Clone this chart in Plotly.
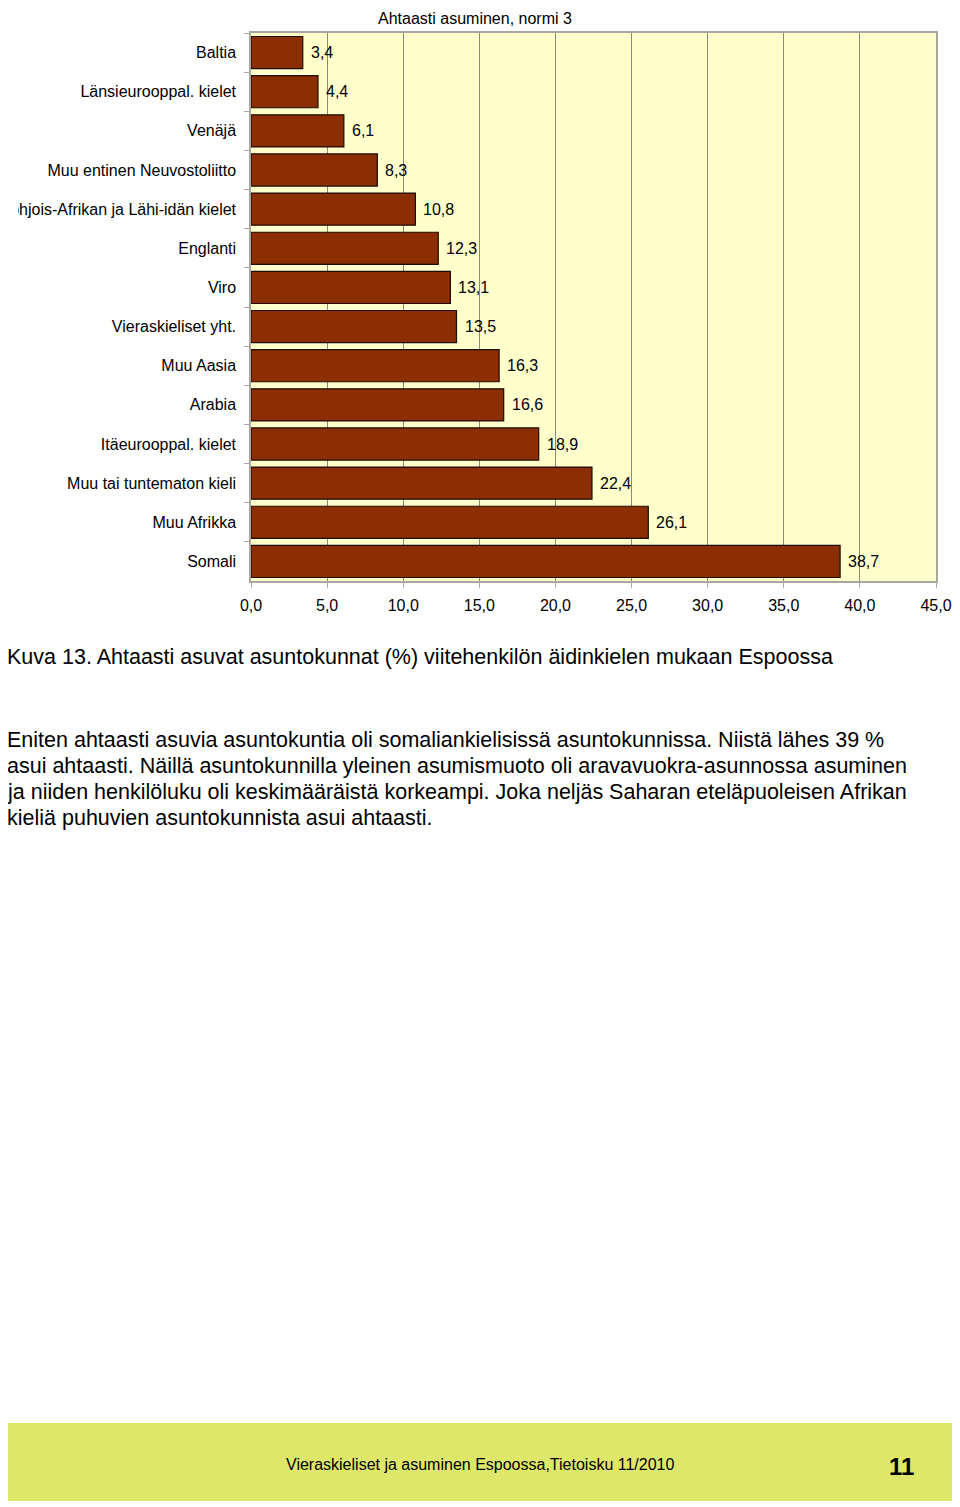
import plotly.graph_objects as go

categories = ["Baltia", "Länsieurooppal. kielet", "Venäjä", "Muu entinen Neuvostoliitto",
              "Pohjois-Afrikan ja Lähi-idän kielet", "Englanti", "Viro", "Vieraskieliset yht.",
              "Muu Aasia", "Arabia", "Itäeurooppal. kielet", "Muu tai tuntematon kieli",
              "Muu Afrikka", "Somali"]
values = [3.4, 4.4, 6.1, 8.3, 10.8, 12.3, 13.1, 13.5, 16.3, 16.6, 18.9, 22.4, 26.1, 38.7]
tick_vals = [0, 5, 10, 15, 20, 25, 30, 35, 40, 45]
tick_text = ["0,0", "5,0", "10,0", "15,0", "20,0", "25,0", "30,0", "35,0", "40,0", "45,0"]
value_labels = [f"{v:.1f}".replace(".", ",") for v in values]

paragraph_lines = [
    "Eniten ahtaasti asuvia asuntokuntia oli somaliankielisissä asuntokunnissa. Niistä lähes 39 %",
    "asui ahtaasti. Näillä asuntokunnilla yleinen asumismuoto oli aravavuokra-asunnossa asuminen",
    "ja niiden henkilöluku oli keskimääräistä korkeampi. Joka neljäs Saharan eteläpuoleisen Afrikan",
    "kieliä puhuvien asuntokunnista asui ahtaasti.",
]

W, H = 960, 1507
OFF = 8  # page offset of the rendered figure (body margin)
L, R, T, B = 251 - OFF, 936 - OFF, 33 - OFF, 581 - OFF

def px(x):  # reference page pixel x -> paper
    return (x - OFF - L) / (R - L)

def py(y):  # reference page pixel y -> paper
    return (B - (y - OFF)) / (B - T)

FONT = "Liberation Sans, Arial, sans-serif"

fig = go.Figure(go.Bar(
    x=values, y=categories, orientation="h",
    marker=dict(color="#8B2E02", line=dict(color="#1e0a02", width=1.2)),
    width=0.82, hoverinfo="x+y",
))

fig.update_layout(
    width=W, height=H,
    margin=dict(l=L, r=W - R, t=T, b=H - B, pad=0, autoexpand=False),
    paper_bgcolor="white", plot_bgcolor="#FFFFCC",
    showlegend=False,
    font=dict(family=FONT, size=16, color="#000000"),
)
fig.update_xaxes(range=[0, 45], tickvals=tick_vals, ticktext=tick_text, automargin=False,
                 showgrid=True, gridcolor="#8a8a7a", gridwidth=1,
                 showline=True, linecolor="#a8a8a0", linewidth=1.5, mirror=True,
                 ticks="outside", ticklen=5, tickcolor="#a8a8a0", ticklabelstandoff=4,
                 tickfont=dict(family=FONT, size=16), zeroline=False)
fig.update_yaxes(categoryorder="array", categoryarray=categories, autorange="reversed",
                 automargin=False,
                 showline=True, linecolor="#a8a8a0", linewidth=1.5, mirror=True,
                 ticks="outside", ticklen=5, tickcolor="#a8a8a0", tickson="boundaries",
                 ticklabelstandoff=10,
                 tickfont=dict(family=FONT, size=16), showgrid=False)

shapes = [
    dict(type="rect", xref="paper", yref="paper", x0=px(6), x1=px(954), y0=py(1501), y1=py(1423),
         fillcolor="#DEE76A", line=dict(width=0), layer="below"),
    dict(type="rect", xref="paper", yref="paper", x0=px(0), x1=px(18), y0=py(222), y1=py(198),
         fillcolor="white", line=dict(width=0), layer="above"),
]

annotations = []
for cat, v, lab in zip(categories, values, value_labels):
    annotations.append(dict(text=lab, x=v, y=cat, xref="x", yref="y", xanchor="left",
                            yanchor="middle", xshift=6, showarrow=False,
                            font=dict(family=FONT, size=16)))

annotations += [
    dict(text="Ahtaasti asuminen, normi 3", xref="paper", yref="paper", x=px(475), y=py(8),
         xanchor="center", yanchor="top", showarrow=False, font=dict(family=FONT, size=16)),
    dict(text="Kuva 13. Ahtaasti asuvat asuntokunnat (%) viitehenkilön äidinkielen mukaan Espoossa",
         xref="paper", yref="paper", x=px(5), y=py(657), xanchor="left", yanchor="middle",
         showarrow=False, font=dict(family=FONT, size=21.5)),
    dict(text="Vieraskieliset ja asuminen Espoossa,Tietoisku 11/2010", xref="paper", yref="paper",
         x=px(480), y=py(1464), xanchor="center", yanchor="middle", showarrow=False,
         font=dict(family=FONT, size=16)),
    dict(text="<b>11</b>", xref="paper", yref="paper", x=px(901), y=py(1466), xanchor="center",
         yanchor="middle", showarrow=False, font=dict(family=FONT, size=24)),
]
for i, line in enumerate(paragraph_lines):
    annotations.append(dict(text=line, xref="paper", yref="paper", x=px(5), y=py(740 + 26 * i),
                            xanchor="left", yanchor="middle", showarrow=False,
                            font=dict(family=FONT, size=21.5)))

fig.update_layout(shapes=shapes, annotations=annotations)

fig.write_html("out.html")
